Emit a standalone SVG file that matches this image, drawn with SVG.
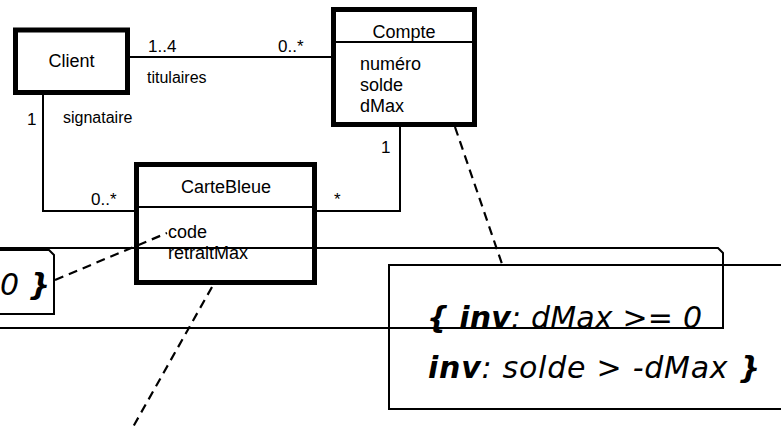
<svg xmlns="http://www.w3.org/2000/svg" width="781" height="427" viewBox="0 0 781 427">
<style>
.box{fill:#fff;stroke:#000;stroke-width:5}
.div{stroke:#000;stroke-width:2}
.ln{fill:none;stroke:#000;stroke-width:2}
.dash{fill:none;stroke:#000;stroke-width:2.2;stroke-dasharray:9 6}
.note{fill:none;stroke:#000;stroke-width:2}
.t{font-family:"Liberation Sans",Arial,sans-serif;fill:#000}
.cn{font-size:18px;text-anchor:middle}
.at{font-size:18px}
.m{font-size:17px}
.r{font-size:16px}
.c{font-family:"DejaVu Sans",sans-serif;font-style:italic;font-size:30px;fill:#000}
.b{font-weight:bold}
</style>
<g id="connectors">
<path class="ln" d="M130 57H331"/>
<path class="ln" d="M43 95V211H134"/>
<path class="ln" d="M317 211H400V127"/>
<text class="t m" x="148" y="52">1..4</text>
<text class="t m" x="278" y="52">0..*</text>
<text class="t r" x="147" y="83">titulaires</text>
<text class="t m" x="27" y="125">1</text>
<text class="t r" x="63" y="123">signataire</text>
<text class="t m" x="91" y="205">0..*</text>
<text class="t m" x="334" y="205">*</text>
<text class="t m" x="381" y="153">1</text>
</g>
<g id="Client">
<rect class="box" x="15.5" y="30" width="112" height="62.5"/>
<text class="t cn" x="71.5" y="67">Client</text>
</g>
<g id="Compte">
<rect class="box" x="333.5" y="9.5" width="141" height="115"/>
<line class="div" x1="336" y1="42" x2="472" y2="42"/>
<text class="t cn" x="404" y="38">Compte</text>
<text class="t at" x="360" y="70">numéro</text>
<text class="t at" x="360" y="91">solde</text>
<text class="t at" x="360" y="112">dMax</text>
</g>
<g id="CarteBleue">
<rect class="box" x="136.5" y="164.5" width="178" height="118"/>
<line class="div" x1="139" y1="207" x2="312" y2="207"/>
<text class="t cn" x="226" y="193">CarteBleue</text>
<text class="t at" x="168" y="238">code</text>
<text class="t at" x="168" y="259">retraitMax</text>
</g>
<g id="notes">
<path class="note" d="M-10 250H49L54 255V314H-10"/>
<path class="note" d="M-10 248H718L723 253V328H-10"/>
<path class="note" d="M791 265H389V409H791"/>
<text class="c" x="0" y="295">0 <tspan class="b">}</tspan></text>
<text class="c" x="427" y="328" textLength="275" lengthAdjust="spacing"><tspan class="b">{ inv</tspan>: dMax &gt;= 0</text>
<text class="c" x="428" y="378" textLength="332" lengthAdjust="spacing"><tspan class="b">inv</tspan>: solde &gt; -dMax <tspan class="b">}</tspan></text>
</g>
<g id="dashes">
<path class="dash" d="M455 127L502 264"/>
<path class="dash" d="M55 280L167 233"/>
<path class="dash" d="M212 287L133 427"/>
</g>
</svg>
